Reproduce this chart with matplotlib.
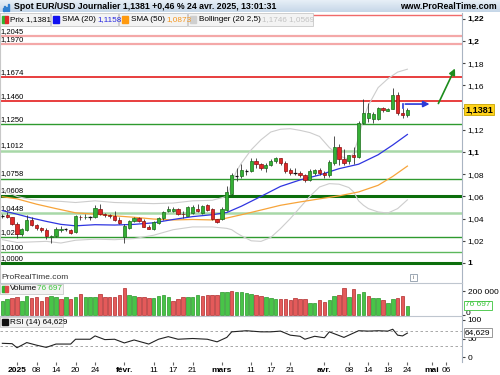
import numpy as np
import matplotlib
matplotlib.use("Agg")
import matplotlib.pyplot as plt
from matplotlib.patches import Rectangle

plt.rcParams['font.family'] = ['Liberation Sans Narrow', 'Liberation Sans', 'DejaVu Sans']

# ---- données (index = jours ouvrés depuis le 2 janv. 2025) ----
day_idx = np.arange(-3, 81)

opens = [1.0423, 1.0430, 1.0410, 1.0355, 1.0265, 1.0300, 1.0390, 1.0345, 1.0315, 1.0300,
         1.0232, 1.0245, 1.0295, 1.0300, 1.0300, 1.0275, 1.0418, 1.0410, 1.0415, 1.0412,
         1.0490, 1.0440, 1.0428, 1.0425, 1.0385, 1.0230, 1.0315, 1.0375, 1.0402, 1.0380,
         1.0328, 1.0310, 1.0360, 1.0402, 1.0465, 1.0470, 1.0482, 1.0445, 1.0425, 1.0450,
         1.0485, 1.0450, 1.0520, 1.0484, 1.0394, 1.0395, 1.0480, 1.0625, 1.0790, 1.0785,
         1.0835, 1.0830, 1.0918, 1.0890, 1.0855, 1.0880, 1.0920, 1.0945, 1.0905, 1.0840,
         1.0815, 1.0812, 1.0795, 1.0750, 1.0815, 1.0835, 1.0815, 1.0790, 1.0905, 1.1045,
         1.0935, 1.0915, 1.0970, 1.0955, 1.1262, 1.1305, 1.1300, 1.1297, 1.1395, 1.1372,
         1.1390, 1.1515, 1.1354, 1.1330]
highs = [1.0445, 1.0455, 1.0415, 1.0370, 1.0315, 1.0435, 1.0415, 1.0355, 1.0325, 1.0315,
         1.0255, 1.0320, 1.0330, 1.0315, 1.0310, 1.0435, 1.0435, 1.0440, 1.0425, 1.0520,
         1.0533, 1.0450, 1.0440, 1.0468, 1.0410, 1.0350, 1.0385, 1.0410, 1.0410, 1.0395,
         1.0345, 1.0375, 1.0410, 1.0470, 1.0515, 1.0500, 1.0495, 1.0465, 1.0510, 1.0525,
         1.0528, 1.0520, 1.0530, 1.0495, 1.0400, 1.0500, 1.0690, 1.0810, 1.0855, 1.0890,
         1.0850, 1.0945, 1.0947, 1.0900, 1.0905, 1.0935, 1.0955, 1.0950, 1.0915, 1.0860,
         1.0855, 1.0830, 1.0800, 1.0845, 1.0845, 1.0860, 1.0830, 1.0925, 1.1145, 1.1075,
         1.1025, 1.0975, 1.1045, 1.1280, 1.1475, 1.1440, 1.1360, 1.1405, 1.1405, 1.1398,
         1.1575, 1.1540, 1.1400, 1.1395]
lows = [1.0408, 1.0405, 1.0345, 1.0225, 1.0240, 1.0290, 1.0330, 1.0300, 1.0280, 1.0215,
        1.0178, 1.0235, 1.0280, 1.0285, 1.0265, 1.0268, 1.0385, 1.0395, 1.0385, 1.0405,
        1.0430, 1.0415, 1.0405, 1.0380, 1.0355, 1.0180, 1.0305, 1.0365, 1.0370, 1.0320,
        1.0305, 1.0300, 1.0350, 1.0390, 1.0460, 1.0460, 1.0435, 1.0405, 1.0420, 1.0445,
        1.0460, 1.0440, 1.0470, 1.0390, 1.0360, 1.0385, 1.0470, 1.0615, 1.0735, 1.0770,
        1.0795, 1.0820, 1.0860, 1.0835, 1.0820, 1.0870, 1.0900, 1.0880, 1.0810, 1.0795,
        1.0790, 1.0775, 1.0730, 1.0735, 1.0795, 1.0790, 1.0765, 1.0775, 1.0880, 1.0885,
        1.0880, 1.0890, 1.0890, 1.0945, 1.1250, 1.1270, 1.1265, 1.1290, 1.1360, 1.1365,
        1.1385, 1.1330, 1.1305, 1.1315]
closes = [1.0425, 1.0410, 1.0355, 1.0265, 1.0305, 1.0390, 1.0345, 1.0315, 1.0300, 1.0245,
          1.0245, 1.0310, 1.0305, 1.0302, 1.0272, 1.0420, 1.0410, 1.0415, 1.0412, 1.0495,
          1.0440, 1.0428, 1.0422, 1.0388, 1.0360, 1.0330, 1.0375, 1.0402, 1.0380, 1.0328,
          1.0310, 1.0365, 1.0402, 1.0462, 1.0490, 1.0485, 1.0445, 1.0438, 1.0500, 1.0503,
          1.0470, 1.0514, 1.0478, 1.0396, 1.0365, 1.0490, 1.0640, 1.0790, 1.0785, 1.0835,
          1.0830, 1.0918, 1.0890, 1.0855, 1.0880, 1.0920, 1.0945, 1.0905, 1.0830, 1.0815,
          1.0812, 1.0795, 1.0750, 1.0830, 1.0835, 1.0815, 1.0790, 1.0910, 1.1045, 1.0935,
          1.0905, 1.0970, 1.0955, 1.1262, 1.1350, 1.1348, 1.1345, 1.1395, 1.1376, 1.1390,
          1.1515, 1.1350, 1.1331, 1.1381]

# volumes en milliers, couleur g/r
volumes = [116, 131, 140, 147, 119, 161, 139, 147, 119, 147,
           158, 147, 134, 147, 134, 147, 175, 147, 147, 147,
           175, 152, 152, 152, 167, 222, 167, 158, 147, 147,
           139, 139, 158, 167, 147, 119, 134, 147, 147, 147,
           167, 158, 167, 167, 167, 189, 194, 200, 189, 189,
           183, 172, 167, 161, 147, 139, 134, 134, 134, 128,
           139, 134, 134, 103, 97, 125, 110, 125, 158, 169,
           225, 153, 219, 175, 192, 158, 139, 139, 125, 97,
           134, 139, 158, 76.697]
vol_colors = ("ggrrggrrrr" "ggrgrgrggg" "rrrrrrggrr" "rggggrrrgg" "grrrrggrgg" "g"
              "grrgggrrrr" "rrggrrggrr" "grggrggrgg" "rrg")

sma20_idx = [-3, 0, 3, 6, 9, 12, 16, 20, 24, 28, 32, 36, 40, 43, 46, 50, 54, 58, 62, 66, 70, 74, 77, 80]
sma20_val = [1.0472, 1.0440, 1.0405, 1.0375, 1.0348, 1.0335, 1.0345, 1.0342, 1.0348, 1.0362,
             1.0392, 1.0418, 1.0435, 1.0455, 1.0512, 1.0600, 1.0690, 1.0748, 1.0793, 1.0850,
             1.0890, 1.0975, 1.1063, 1.1158]
sma50_idx = [-3, 0, 4, 8, 12, 16, 20, 24, 28, 32, 36, 40, 42, 46, 50, 54, 58, 62, 66, 70, 74, 77, 80]
sma50_val = [1.0597, 1.0578, 1.0530, 1.0490, 1.0452, 1.0440, 1.0425, 1.0412, 1.0396, 1.0388,
             1.0392, 1.0388, 1.0395, 1.0435, 1.0477, 1.0520, 1.0550, 1.0578, 1.0605, 1.0640,
             1.0700, 1.0780, 1.0873]
bb_idx = [-3, 0, 3, 6, 9, 12, 16, 20, 24, 28, 32, 36, 40, 43, 44, 45, 46, 48, 50, 52, 54, 56,
          58, 60, 62, 64, 66, 68, 69, 70, 71, 72, 74, 76, 78, 80]
bb_up = [1.0660, 1.0600, 1.0570, 1.0560, 1.0555, 1.0545, 1.0560, 1.0545, 1.0540, 1.0535,
         1.0540, 1.0560, 1.0565, 1.0600, 1.0720, 1.0830, 1.0900, 1.1020, 1.1110, 1.1180,
         1.1205, 1.1210, 1.1195, 1.1175, 1.1140, 1.1040, 1.0965, 1.0935, 1.0990, 1.1130,
         1.1300, 1.1420, 1.1580, 1.1660, 1.1720, 1.1746]
bb_lo = [1.0210, 1.0185, 1.0190, 1.0195, 1.0180, 1.0205, 1.0215, 1.0210, 1.0220, 1.0250,
         1.0300, 1.0325, 1.0325, 1.0312, 1.0300, 1.0270, 1.0245, 1.0200, 1.0195, 1.0230,
         1.0310, 1.0400, 1.0500, 1.0600, 1.0685, 1.0715, 1.0710, 1.0680, 1.0640, 1.0560,
         1.0520, 1.0490, 1.0460, 1.0450, 1.0490, 1.0569]

rsi_idx = [-3, -1, 0, 2, 4, 6, 8, 11, 12, 15, 16, 18, 20, 22, 24, 27, 29, 31, 33, 36, 39, 41,
           43, 44, 47, 50, 52, 54, 56, 58, 59, 61, 63, 64, 67, 68, 70, 72, 74, 76, 77, 78, 79, 80]
rsi_val = [37, 36, 25, 39, 32, 26, 35, 35, 48, 48, 57, 47, 48, 38, 46, 35, 48, 55, 48, 50, 48, 41,
           53, 68, 71, 68, 68, 70, 59, 56, 48, 56, 52, 68, 53, 59, 71, 70, 71, 70, 75, 59, 57, 64.6]

levels = [1.2235, 1.2045, 1.1970, 1.1674, 1.1460, 1.1250, 1.1012, 1.0758, 1.0608, 1.0448, 1.0233, 1.0100, 1.0000]
level_labels = ["", "1,2045", "1,1970", "1,1674", "1,1460", "1,1250", "1,1012", "1,0758",
                "1,0608", "1,0448", "1,0233", "1,0100", "1,0000"]
level_colors = ["#f06a6a", "#f4a8a8", "#f4a8a8", "#e41e1e", "#e41e1e", "#2f9a2f", "#a8d8a8",
                "#2f9a2f", "#0c6e0c", "#a8d8a8", "#2f9a2f", "#5cb85c", "#0c6e0c"]
level_widths = [1.0, 1.6, 1.6, 1.2, 1.2, 1.0, 1.8, 1.0, 2.2, 1.8, 1.0, 1.0, 2.2]

date_ticks = [0, 4, 8, 12, 16, 22, 28, 32, 36, 42, 48, 52, 56, 63, 68, 72, 76, 80, 85, 88]
date_labels = ["2025", "08", "14", "20", "24", "févr.", "11", "17", "21", "mars", "11", "17", "21",
               "avr.", "08", "14", "18", "24", "mai", "06"]
bold_labels = {"2025", "févr.", "mars", "avr.", "mai"}

# 1,14 est caché sous l'étiquette du dernier cours
price_ticks = [1.0, 1.02, 1.04, 1.06, 1.08, 1.1, 1.12, 1.14, 1.16, 1.18, 1.2, 1.22]
price_tick_labels = ["1", "1,02", "1,04", "1,06", "1,08", "1,1", "1,12", "", "1,16", "1,18", "1,2", "1,22"]

# ---- mise en page (pixels) ----
W, H = 500, 375


def fx(x):
    return x / W


def fy(y):
    return 1 - y / H


X0, X1 = -3.48, 91.19
fig = plt.figure(figsize=(5, 3.75), dpi=100)
fig.patch.set_facecolor("white")

ax = fig.add_axes([0, fy(283), fx(462), 270 / H])
axv = fig.add_axes([0, fy(316), fx(462), 33 / H])
axr = fig.add_axes([0, fy(362), fx(462), 46 / H])

for a in (ax, axv, axr):
    a.set_xlim(X0, X1)
    a.yaxis.tick_right()
    for s in ("left", "top", "bottom"):
        a.spines[s].set_visible(False)
    a.spines["right"].set_color("#a9b4c2")
    a.tick_params(axis="y", labelsize=6, length=2.5, pad=1.5, colors="#444", labelcolor="black")
    a.tick_params(axis="x", bottom=False, labelbottom=False)
ax.spines["left"].set_visible(True)
ax.spines["left"].set_color("#c8c8c8")
axv.spines["top"].set_visible(True)
axv.spines["top"].set_color("#bfc6cf")
axr.spines["top"].set_visible(True)
axr.spines["top"].set_color("#bfc6cf")

# ---- panneau prix ----
ax.set_ylim(1 - 20 / 1110, 1 + 250 / 1110)
for lv, lab, col, lw in zip(levels, level_labels, level_colors, level_widths):
    ax.axhline(lv, color=col, lw=lw, zorder=1)
    if lab:
        ax.text(-3.3, lv + 0.0012, lab, fontsize=5.5, va="bottom", ha="left", zorder=1.5)

ax.plot(bb_idx, bb_up, color="#cdcdcd", lw=0.8, zorder=2)
ax.plot(bb_idx, bb_lo, color="#cdcdcd", lw=0.8, zorder=2)
ax.plot(sma50_idx, sma50_val, color="#f7a43a", lw=0.9, zorder=3)
ax.plot(sma20_idx, sma20_val, color="#2f35e0", lw=0.9, zorder=3)

for x, o, h, l, c in zip(day_idx, opens, highs, lows, closes):
    ax.vlines(x, l, h, color="#333333", lw=0.6, zorder=4)
    if abs(c - o) < 0.0005:
        ax.hlines(c, x - 0.35, x + 0.35, color="#111111", lw=0.9, zorder=5)
        continue
    if c > o:
        fc, ec = "#35b035", "#1b6e1b"
    else:
        fc, ec = "#e02828", "#8a1010"
    ax.add_patch(Rectangle((x - 0.33, min(o, c)), 0.66, abs(c - o), facecolor=fc,
                           edgecolor=ec, lw=0.5, zorder=5))

# flèches
ax.annotate("", xy=(90.0, 1.1775), xytext=(86.1, 1.1414),
            arrowprops=dict(arrowstyle="-|>", color="#1c8c1c", lw=1.2, mutation_scale=9), zorder=6)
ax.plot([79, 79], [1.1395, 1.1432], color="#2a3ad8", lw=1.2, zorder=6)
ax.annotate("", xy=(85.1, 1.1432), xytext=(79, 1.1432),
            arrowprops=dict(arrowstyle="-|>", color="#2a3ad8", lw=1.2, mutation_scale=9), zorder=6)

ax.set_yticks(price_ticks)
ax.set_yticklabels(price_tick_labels)
for t in ax.get_yticklabels():
    if t.get_text() in ("1", "1,1", "1,2", "1,22"):
        t.set_fontweight("bold")

ax.text(-3.2, 1 - 15 / 1110, "ProRealTime.com", fontsize=6, color="#333333", va="center")
ax.add_patch(Rectangle((80.6, 1 - 18.5 / 1110), 1.3, 7 / 1110, facecolor="white",
                       edgecolor="#8d9aa8", lw=0.6, zorder=6))
ax.text(81.25, 1 - 15 / 1110, "i", fontsize=4.5, color="#666", ha="center", va="center", zorder=7)

# ---- volume ----
axv.set_ylim(-200000 / 24, 32 * 200000 / 24)
vol_fc = {"g": "#48c448", "r": "#e45a5a"}
vol_ec = {"g": "#2a962a", "r": "#b02a2a"}
axv.bar(day_idx, np.array(volumes) * 1000, width=0.72,
        color=[vol_fc[c] for c in vol_colors], edgecolor=[vol_ec[c] for c in vol_colors], lw=0.5)
axv.set_yticks([0, 200000])
axv.set_yticklabels(["", "200 000"])
fig.text(fx(466), fy(313.5), "0", fontsize=6, va="center", ha="left")

# ---- RSI ----
axr.set_ylim(-5 / 0.37, 41 / 0.37)
axr.axhline(70, color="#9a9a9a", lw=0.6, ls=(0, (3, 3)))
axr.axhline(30, color="#9a9a9a", lw=0.6, ls=(0, (3, 3)))
axr.plot(rsi_idx, rsi_val, color="#222222", lw=0.8)
axr.set_yticks([0, 50, 100])
axr.set_yticklabels(["0", "50", "100"])
axr.set_xticks(date_ticks)
axr.set_xticklabels(date_labels)
axr.tick_params(axis="x", bottom=True, labelbottom=True, labelsize=6, length=2, pad=1.5, colors="#666", labelcolor="black")
for t in axr.get_xticklabels():
    if t.get_text() in bold_labels:
        t.set_fontweight("bold")

# ---- barre de titre ----
tb = fig.add_axes([0, fy(12.5), 1, 12.5 / H])
grad = np.linspace(0, 1, 20).reshape(-1, 1)
tb.imshow(grad, aspect="auto", cmap=matplotlib.colors.LinearSegmentedColormap.from_list(
    "tb", ["#eaf1f8", "#c6d7e8"]), extent=[0, 1, 0, 1])
tb.set_axis_off()
for k, hgt in enumerate([0.35, 0.6, 0.45, 0.8]):
    fig.add_artist(Rectangle((fx(2.5 + 1.8 * k), fy(10.5)), fx(1.1), hgt * 8 / H,
                             transform=fig.transFigure, color="#2f7fd0"))
fig.text(fx(14), fy(6.5), "Spot EUR/USD Journalier 1,1381 +0,46 % 24 avr. 2025, 13:01:31",
         fontsize=6.3, fontweight="bold", va="center", ha="left")
fig.text(fx(497), fy(6.5), "www.ProRealTime.com", fontsize=6.3, fontweight="bold", va="center", ha="right")


def legend_box(x0, x1, y0, y1):
    fig.add_artist(Rectangle((fx(x0), fy(y1)), fx(x1 - x0), (y1 - y0) / H, transform=fig.transFigure,
                             facecolor="#f3f3f3", edgecolor="#c9c9c9", lw=0.6))


def square(x0, y0, cols):
    w = 6 / len(cols)
    for k, c in enumerate(cols):
        fig.add_artist(Rectangle((fx(x0 + k * w), fy(y0 + 6)), fx(w), 6 / H,
                                 transform=fig.transFigure, color=c))


def ftext(x, y, s, color="black"):
    fig.text(fx(x), fy(y), s, fontsize=5.9, color=color, va="center", ha="left")


legend_box(0, 50, 13, 26)
legend_box(51, 118, 13, 26)
legend_box(119, 187, 13, 26)
legend_box(188, 313, 13, 26)
square(2, 16.5, ["#2fb52f", "#e02828"])
ftext(10, 19.5, "Prix 1,1381")
square(53, 16.5, ["#1010f0"])
ftext(62, 19.5, "SMA (20)")
ftext(97, 19.5, "1,1158", "#2a2ae0")
square(122, 16.5, ["#ff9a10"])
ftext(131, 19.5, "SMA (50)")
ftext(166, 19.5, "1,0873", "#f5961e")
square(190, 16.5, ["#cfcfcf"])
ftext(199, 19.5, "Bollinger (20 2,5)")
ftext(262, 19.5, "1,1746 1,0569", "#c2c2c2")

legend_box(0, 63, 284, 294)
square(2, 286, ["#2fb52f", "#e04a4a"])
ftext(10, 289, "Volume")
ftext(37, 289, "76 697", "#3cc43c")
legend_box(0, 63, 317, 327)
square(2, 319, ["#111111"])
ftext(10, 322, "RSI (14) 64,629")

# étiquettes de valeur à droite
fig.text(fx(465), fy(109.5), "1,1381", fontsize=6.5, fontweight="bold", va="center", ha="left",
         bbox=dict(boxstyle="square,pad=0.15", facecolor="#ffd21a", edgecolor="#c8a400", lw=0.6))
fig.text(fx(465), fy(305), "76 697", fontsize=6.0, color="#3cc43c", va="center", ha="left",
         bbox=dict(boxstyle="square,pad=0.12", facecolor="white", edgecolor="#3cc43c", lw=0.6))
fig.text(fx(465), fy(332.5), "64,629", fontsize=6.0, color="black", va="center", ha="left",
         bbox=dict(boxstyle="square,pad=0.12", facecolor="white", edgecolor="#888888", lw=0.6))

fig.savefig("out.png", dpi=100)
